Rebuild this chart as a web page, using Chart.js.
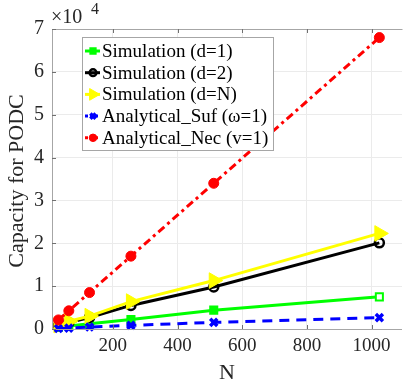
<!DOCTYPE html>
<html>
<head>
<meta charset="utf-8">
<script src="https://cdn.jsdelivr.net/npm/chart.js@4.4.1/dist/chart.umd.min.js"></script>
<style>
  html, body { margin: 0; padding: 0; background: #fff; }
  #wrap { width: 412px; height: 390px; }
</style>
</head>
<body>
<div id="wrap"><canvas id="chart" width="412" height="390"></canvas></div>
<script>
// data (capacity values, plotted in units of 1e4)
const nValues = [32, 64, 128, 256, 512, 1024];
const simD1 = [400, 700, 1200, 2200, 4400, 7500];
const simD2 = [800, 1500, 2700, 5500, 9800, 20100];
const simDN = [900, 1800, 3000, 6400, 11300, 22300];
const anaSuf = [100, 200, 450, 850, 1550, 2650];
const anaNec = [2125, 4250, 8500, 17000, 34000, 68000];
const xTicks = [200, 400, 600, 800, 1000];
const yTicks = [0, 1, 2, 3, 4, 5, 6, 7];
const seriesNames = ['Simulation (d=1)', 'Simulation (d=2)', 'Simulation (d=N)', 'Analytical_Suf (\u03c9=1)', 'Analytical_Nec (v=1)'];

const serif = '"Liberation Serif", "DejaVu Serif", serif';
const toPts = arr => arr.map((v, i) => ({ x: nValues[i], y: v / 1e4 }));

const datasets = [
  { label: seriesNames[0], data: toPts(simD1), borderColor: '#00ff00', backgroundColor: '#00ff00',
    pointStyle: 'rect', pointRadius: 5, pointBorderWidth: 2,
    pointBackgroundColor: ['#00ff00', '#00ff00', '#00ff00', '#00ff00', '#00ff00', '#ffffff'], order: 4 },
  { label: seriesNames[1], data: toPts(simD2), borderColor: '#000000', backgroundColor: '#000000',
    pointStyle: 'circle', pointRadius: 4.5, pointBorderWidth: 2.5, pointBackgroundColor: 'rgba(0,0,0,0)', order: 3 },
  { label: seriesNames[2], data: toPts(simDN), borderColor: '#ffff00', backgroundColor: '#ffff00',
    pointStyle: 'triangle', pointRotation: 90, pointRadius: 9, pointBorderWidth: 1, pointBackgroundColor: '#ffff00', order: 2 },
  { label: seriesNames[3], data: toPts(anaSuf), borderColor: '#0000ff', backgroundColor: '#0000ff',
    pointStyle: 'crossRot', pointRadius: 5, pointBorderWidth: 3.5, borderDash: [10, 7], order: 1 },
  { label: seriesNames[4], data: toPts(anaNec), borderColor: '#ff0000', backgroundColor: '#ff0000',
    pointStyle: 'circle', pointRadius: 5, pointBorderWidth: 1, pointBackgroundColor: '#ff0000', borderDash: [8, 4, 3, 4], order: 0 }
];
datasets.forEach(d => { d.showLine = true; d.borderWidth = 3; d.tension = 0; d.clip = false; });

// MATLAB-like box, tick marks, exponent label, axis titles and legend
const decorations = {
  id: 'decorations',
  afterDraw(chart) {
    const { ctx, chartArea: a, scales: { x, y } } = chart;
    ctx.save();
    // box
    ctx.strokeStyle = '#a6a6a6';
    ctx.lineWidth = 1;
    ctx.beginPath();
    ctx.moveTo(a.left + 0.5, a.top + 0.5); ctx.lineTo(a.right + 0.5, a.top + 0.5);
    ctx.moveTo(a.left + 0.5, a.top); ctx.lineTo(a.left + 0.5, a.bottom + 0.5);
    ctx.moveTo(a.left, a.bottom + 0.5); ctx.lineTo(a.right, a.bottom + 0.5);
    ctx.stroke();
    // tick marks
    ctx.strokeStyle = '#707070';
    ctx.beginPath();
    xTicks.forEach(t => {
      const px = Math.round(x.getPixelForValue(t)) + 0.5;
      ctx.moveTo(px, a.bottom); ctx.lineTo(px, a.bottom - 4);
      ctx.moveTo(px, a.top); ctx.lineTo(px, a.top + 4);
    });
    yTicks.forEach(t => {
      const py = Math.round(y.getPixelForValue(t)) + 0.5;
      ctx.moveTo(a.left, py); ctx.lineTo(a.left + 4, py);
    });
    ctx.stroke();

    // exponent
    ctx.fillStyle = '#262626';
    ctx.textBaseline = 'alphabetic';
    ctx.textAlign = 'left';
    ctx.font = '20px ' + serif;
    ctx.fillText('\u00d710', a.left - 1, 23);
    ctx.font = '16px ' + serif;
    ctx.fillText('4', a.left + 39, 14);

    // axis titles
    ctx.font = '22px ' + serif;
    ctx.textAlign = 'center';
    ctx.textBaseline = 'middle';
    ctx.fillText('N', (a.left + 400) / 2 + 1, 373);
    ctx.save();
    ctx.translate(17, 181);
    ctx.rotate(-Math.PI / 2);
    ctx.fillText('Capacity for PODC', 0, 0);
    ctx.restore();

    // legend
    const lx = 82, ly = 37, lw = 191, lh = 113;
    ctx.fillStyle = '#ffffff';
    ctx.fillRect(lx, ly, lw, lh);
    ctx.strokeStyle = '#a6a6a6';
    ctx.lineWidth = 1;
    ctx.strokeRect(lx + 0.5, ly + 0.5, lw, lh);
    ctx.font = '19px ' + serif;
    ctx.textAlign = 'left';
    ctx.textBaseline = 'middle';
    chart.data.datasets.forEach((d, i) => {
      const cy = 51 + i * 21.7;
      ctx.save();
      ctx.strokeStyle = d.borderColor;
      ctx.lineWidth = 3;
      ctx.setLineDash(d.borderDash ? [3, 2] : []);
      ctx.beginPath();
      ctx.moveTo(lx + 3, cy); ctx.lineTo(lx + 18, cy);
      ctx.stroke();
      ctx.setLineDash([]);
      ctx.fillStyle = Array.isArray(d.pointBackgroundColor) ? d.pointBackgroundColor[0] : (d.pointBackgroundColor || d.borderColor);
      ctx.lineWidth = d.pointBorderWidth;
      Chart.helpers.drawPoint(ctx, {
        pointStyle: d.pointStyle, rotation: d.pointRotation || 0,
        radius: d.pointRadius * 0.75, borderWidth: d.pointBorderWidth
      }, lx + 11, cy);
      ctx.restore();
      ctx.fillStyle = '#000000';
      ctx.fillText(d.label, lx + 20, cy + 1);
    });
    ctx.restore();
  }
};

new Chart(document.getElementById('chart'), {
  type: 'scatter',
  data: { datasets },
  options: {
    responsive: false,
    animation: false,
    layout: { padding: { top: 29, right: 0, left: 0, bottom: 0 } },
    plugins: { legend: { display: false }, tooltip: { enabled: false } },
    scales: {
      x: {
        type: 'linear', min: 12, max: 1094,
        afterBuildTicks: s => { s.ticks = xTicks.map(v => ({ value: v })); },
        afterFit: s => { s.height = 61; },
        grid: { color: '#ebebeb', drawTicks: false },
        border: { display: false },
        ticks: { color: '#262626', font: { family: serif, size: 19 }, padding: 6, maxRotation: 0,
                 callback: v => String(v) }
      },
      y: {
        type: 'linear', min: 0, max: 7,
        afterBuildTicks: s => { s.ticks = yTicks.map(v => ({ value: v })); },
        afterFit: s => { s.width = 52; },
        grid: { color: '#ebebeb', drawTicks: false },
        border: { display: false },
        ticks: { color: '#262626', font: { family: serif, size: 20 }, padding: 8 }
      }
    }
  },
  plugins: [decorations]
});
</script>
</body>
</html>
